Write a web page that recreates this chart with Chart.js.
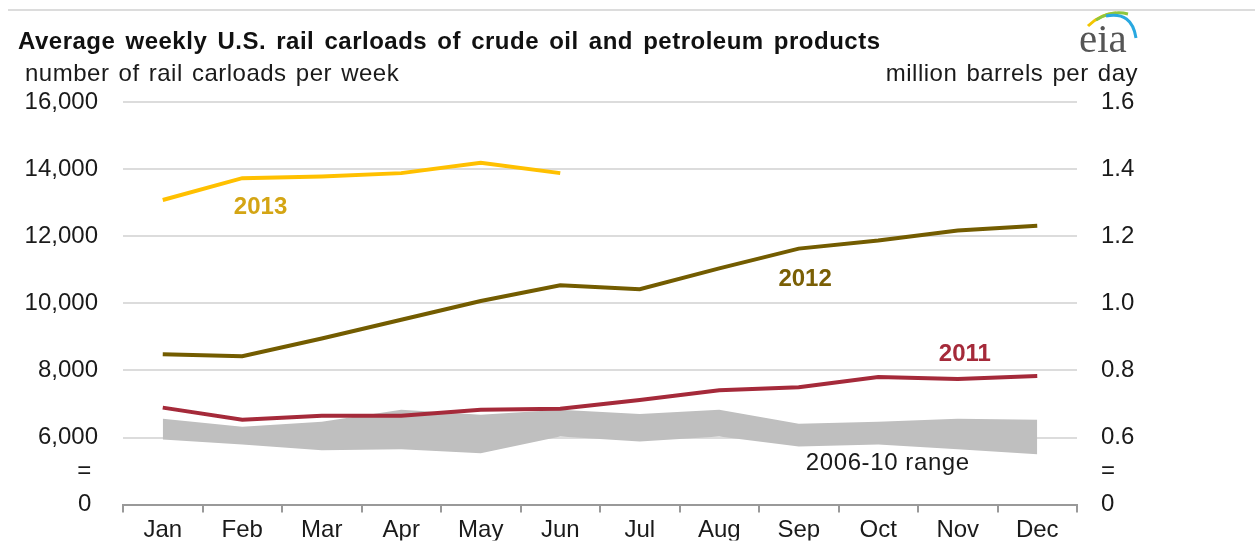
<!DOCTYPE html>
<html><head><meta charset="utf-8">
<script src="https://cdn.jsdelivr.net/npm/chart.js@4.4.0/dist/chart.umd.min.js"></script>
<style>
html,body{margin:0;padding:0;background:#fff;}
#wrap{position:relative;width:1255px;height:544px;overflow:hidden;background:#fff;}
#c{position:absolute;left:0;top:0;}
.t{position:absolute;font-family:"Liberation Sans",Arial,sans-serif;color:#1a1a1a;white-space:nowrap;line-height:1;}
#title{left:18px;top:29px;font-size:24px;font-weight:bold;color:#111;letter-spacing:0.5px;word-spacing:3px;}
#subl{left:25px;top:61px;font-size:24px;letter-spacing:0.5px;word-spacing:2px;}
#subr{right:117px;top:61px;font-size:24px;letter-spacing:0.5px;word-spacing:2px;}
#topline{position:absolute;left:8px;right:0;top:9px;height:2px;background:#dcdcdc;}
#logo{position:absolute;left:1070px;top:5px;}
</style></head>
<body><div id="wrap">
<div id="topline"></div>
<canvas id="c" width="1255" height="544"></canvas>
<div class="t" id="title">Average weekly U.S. rail carloads of crude oil and petroleum products</div>
<div class="t" id="subl">number of rail carloads per week</div>
<div class="t" id="subr">million barrels per day</div>
<svg id="logo" width="80" height="55" viewBox="0 0 80 55">
  <path d="M18 21 Q 30 9 46 8" stroke="#F2C500" stroke-width="3" fill="none"/>
  <path d="M26 15 Q 42 5 58 9" stroke="#8DC63F" stroke-width="3" fill="none"/>
  <path d="M36 11 Q 62 6 66 33" stroke="#29A8E0" stroke-width="3" fill="none"/>
  <text x="9" y="47" font-family="'Liberation Serif','DejaVu Serif',serif" font-size="41" fill="#555">eia</text>
</svg>
</div>
<script>
const months = ['Jan','Feb','Mar','Apr','May','Jun','Jul','Aug','Sep','Oct','Nov','Dec'];
const series2013 = [13080,13730,13780,13880,14190,13880,null,null,null,null,null,null];
const series2012 = [8480,8420,8950,9510,10070,10540,10420,11040,11630,11870,12170,12310];
const series2011 = [6890,6530,6650,6650,6830,6860,7120,7410,7500,7800,7740,7830];
const rangeLow  = [5940,5790,5620,5650,5530,6030,5880,6030,5730,5790,5650,5500];
const rangeHigh = [6560,6320,6470,6830,6680,6830,6700,6830,6410,6470,6560,6530];
const tickValues  = [4000,5000,6000,8000,10000,12000,14000,16000];
const leftLabels  = ['0 ','= ','6,000','8,000','10,000','12,000','14,000','16,000'];
const rightLabels = ['0','=','0.6','0.8','1.0','1.2','1.4','1.6'];

const FAM = '"Liberation Sans", Arial, sans-serif';
const TXT = '#1a1a1a';

const labelPlugin = {
  id: 'seriesLabels',
  afterDatasetsDraw(chart, args, opts) {
    const ctx = chart.ctx, xs = chart.scales.x, ys = chart.scales.y;
    ctx.save();
    ctx.textAlign = 'center';
    ctx.textBaseline = 'middle';
    for (const a of opts.items) {
      ctx.font = (a.bold ? 'bold ' : '') + '24px ' + FAM;
      if ('letterSpacing' in ctx) ctx.letterSpacing = a.spacing || '0px';
      ctx.fillStyle = a.color;
      ctx.fillText(a.text, xs.getPixelForValue(a.x), ys.getPixelForValue(a.y));
    }
    ctx.restore();
  }
};

new Chart(document.getElementById('c'), {
  type: 'line',
  data: {
    labels: months,
    datasets: [
      {label:'2013', data: series2013, borderColor:'#FFC000', borderWidth:4, pointRadius:0, fill:false, order:1},
      {label:'2012', data: series2012, borderColor:'#735C00', borderWidth:4, pointRadius:0, fill:false, order:1},
      {label:'2011', data: series2011, borderColor:'#A52A3A', borderWidth:4, pointRadius:0, fill:false, order:1},
      {label:'low', data: rangeLow, borderWidth:0, borderColor:'rgba(0,0,0,0)', pointRadius:0, fill:false, order:5},
      {label:'2006-10 range', data: rangeHigh, borderWidth:0, borderColor:'rgba(0,0,0,0)', backgroundColor:'#BFBFBF', pointRadius:0, fill:'-1', order:5}
    ]
  },
  options: {
    responsive:false, animation:false, devicePixelRatio:1,
    layout:{padding:{top:102,left:0,right:0,bottom:0}},
    plugins:{legend:{display:false}, tooltip:{enabled:false},
      seriesLabels:{items:[
        {text:'2013', x:1.23, y:12870, color:'#D4A514', bold:true},
        {text:'2012', x:8.08, y:10720, color:'#7A5F05', bold:true},
        {text:'2011', x:10.09, y:8480, color:'#A52A3A', bold:true},
        {text:'2006-10 range', x:9.12, y:5233, color:TXT, bold:false, spacing:'0.6px'}
      ]}
    },
    elements:{line:{tension:0}},
    scales:{
      x:{
        offset:true,
        grid:{offset:true, drawOnChartArea:false, drawTicks:true, tickLength:8, color:'#999', lineWidth:2},
        border:{display:true, color:'#999', width:2},
        ticks:{font:{size:24, family:FAM}, color:TXT, padding:3, maxRotation:0, autoSkip:false},
        afterFit(s){ s.height = 36; }
      },
      y:{
        position:'left', min:4000, max:16000,
        afterBuildTicks(s){ s.ticks = tickValues.map(v => ({value:v})); },
        ticks:{callback:(v,i) => leftLabels[i], padding:25, font:{size:24, family:FAM}, color:TXT},
        grid:{drawTicks:false, lineWidth:2, color:(c) => (c.tick && c.tick.value >= 6000) ? '#dcdcdc' : 'rgba(0,0,0,0)'},
        border:{display:false},
        afterFit(s){ s.width = 123; }
      },
      y2:{
        position:'right', min:4000, max:16000,
        afterBuildTicks(s){ s.ticks = tickValues.map(v => ({value:v})); },
        ticks:{callback:(v,i) => rightLabels[i], padding:24, font:{size:24, family:FAM}, color:TXT},
        grid:{display:false, drawTicks:false},
        border:{display:false},
        afterFit(s){ s.width = 178; }
      }
    }
  },
  plugins:[labelPlugin]
});
</script>
</body></html>
